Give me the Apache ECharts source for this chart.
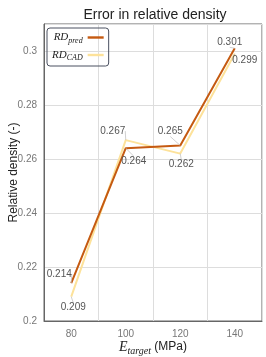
<!DOCTYPE html>
<html><head><meta charset="utf-8">
<script src="https://cdn.jsdelivr.net/npm/echarts@6/dist/echarts.min.js"></script>
<style>html,body{margin:0;padding:0;background:#fff}#c{width:266px;height:357px}</style>
</head><body><div id="c"></div>
<script>
const categories = ['80', '100', '120', '140'];
const rdPred = [0.214, 0.264, 0.265, 0.301];
const rdCad = [0.209, 0.267, 0.262, 0.299];
const yTicks = [0.2, 0.22, 0.24, 0.26, 0.28, 0.3];

const predOffsets = [[-12, -9], [8, 13], [-10, -14], [-5, -6]];
const cadOffsets = [[2, 11], [-13, -9], [1, 11], [10, 7]];

const sans = 'Liberation Sans, Arial, sans-serif';
const serif = 'Liberation Serif, Times New Roman, serif';

const chart = echarts.init(document.getElementById('c'), null, {renderer: 'canvas'});
function mkSeries(name, data, color, offs, z) {
  return {
    name, type: 'line', data, z,
    symbol: 'circle', symbolSize: 0.01,
    lineStyle: {color, width: 2},
    itemStyle: {color},
    label: {show: true, position: 'inside', color: '#555', fontSize: 10, fontFamily: sans,
      formatter: p => p.value.toFixed(3)},
    labelLine: {show: true, lineStyle: {color: '#bbb', width: 0.7}},
    labelLayout: p => ({dx: offs[p.dataIndex][0], dy: offs[p.dataIndex][1]}),
    emphasis: {disabled: true}, animation: false
  };
}
chart.setOption({
  animation: false,
  title: {text: 'Error in relative density', left: 150, textAlign: 'center', top: 3,
    textStyle: {fontFamily: sans, fontSize: 14, fontWeight: 'normal', color: '#222'}},
  grid: {left: 44, right: 4, top: 24, bottom: 36, show: true, borderColor: '#666', borderWidth: 1,
    containLabel: false, outerBoundsMode: 'none'},
  legend: {left: 47, top: 28, orient: 'vertical', align: 'right',
    borderColor: '#4a5060', borderWidth: 1, borderRadius: 3, padding: [4, 5, 4, 5],
    itemWidth: 16, itemHeight: 8, itemGap: 5,
    data: [{name: 'pred', icon: 'path://M0,0L1,0L1,0.15L0,0.15Z'}, {name: 'CAD', icon: 'path://M0,0L1,0L1,0.15L0,0.15Z'}],
    formatter: n => '{m|RD}{s|' + n + '}',
    textStyle: {rich: {
      m: {fontFamily: serif, fontStyle: 'italic', fontSize: 11, color: '#222'},
      s: {fontFamily: serif, fontStyle: 'italic', fontSize: 8, color: '#222', verticalAlign: 'bottom', padding: [6, 0, 0, 0]}
    }}},
  xAxis: {type: 'category', data: categories, boundaryGap: true,
    axisLine: {lineStyle: {color: '#666'}}, axisTick: {show: false},
    splitLine: {show: true, lineStyle: {color: '#ddd'}},
    axisLabel: {color: '#777', fontSize: 10, fontFamily: sans, margin: 8},
    name: '{e|E}{t|target}{n| (MPa)}', nameLocation: 'middle', nameGap: 17, nameMoveOverlap: false,
    nameTextStyle: {verticalAlign: 'top', rich: {
      e: {fontFamily: serif, fontStyle: 'italic', fontSize: 14, color: '#222'},
      t: {fontFamily: serif, fontStyle: 'italic', fontSize: 10, color: '#222', verticalAlign: 'bottom', padding: [8, 0, 0, 0]},
      n: {fontFamily: sans, fontSize: 12, color: '#222'}
    }}},
  yAxis: {type: 'value', min: 0.2, max: 0.31, interval: 0.02,
    axisLine: {show: true, lineStyle: {color: '#666'}}, axisTick: {show: false},
    splitLine: {lineStyle: {color: '#ddd'}},
    axisLabel: {color: '#777', fontSize: 10, fontFamily: sans, margin: 7, showMaxLabel: false,
      formatter: v => { const t = yTicks.find(x => Math.abs(x - v) < 1e-6); return t === undefined ? '' : String(t); }},
    name: 'Relative density (-)', nameLocation: 'middle', nameGap: 24, nameMoveOverlap: false,
    nameTextStyle: {fontFamily: sans, fontSize: 12, color: '#222'}},
  series: [
    mkSeries('pred', rdPred, '#c55a11', predOffsets, 3),
    mkSeries('CAD', rdCad, '#fde29a', cadOffsets, 2)
  ]
});
</script></body></html>
